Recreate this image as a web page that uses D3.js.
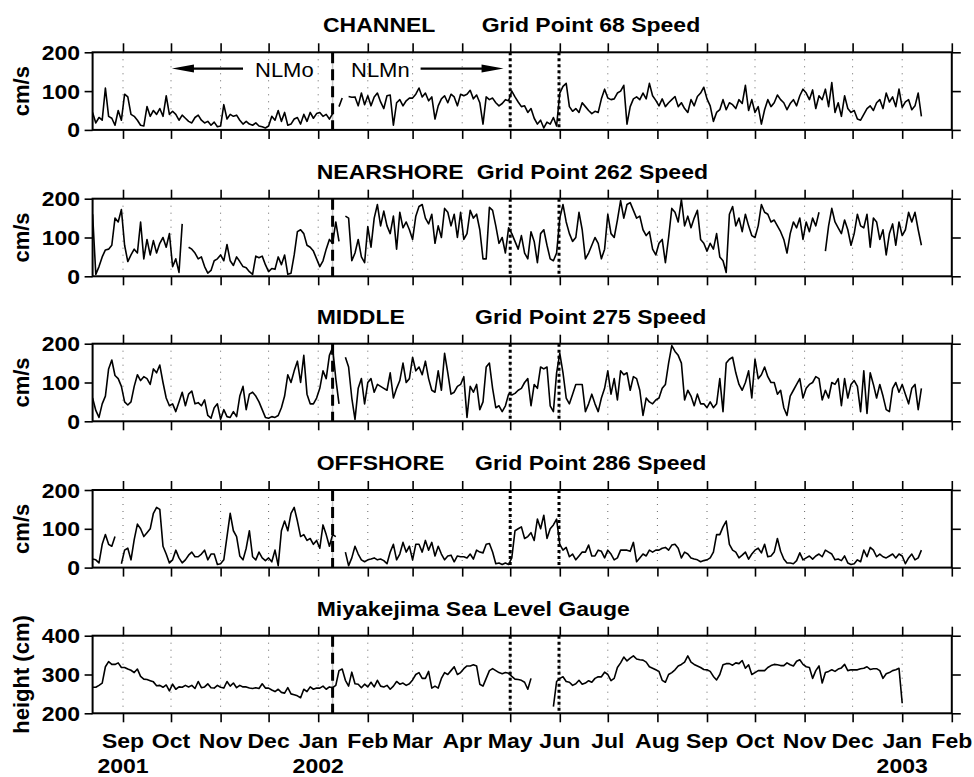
<!DOCTYPE html>
<html>
<head>
<meta charset="utf-8">
<script src="https://cdn.jsdelivr.net/npm/d3@7"></script>
<style>
  body { margin: 0; background: #fff; }
  svg text { font-family: "Liberation Sans", Arial, Helvetica, sans-serif; fill: #000; }
</style>
</head>
<body>
<script>
const width = 974;
const height = 777;

// one sample every 2 days, starting 13 Aug 2001 (null = no data)
const startDate = new Date(2001, 7, 13);
const stepDays = 2;

const channel = [
  45, 18, 32, 25, 108, 35, 30, 12, 50, 25,                       // Aug 01
  92, 85, 40, 35, 25, 12, 10, 60, 35, 50, 40, 55, 35, 88, 40,    // Sep
  48, 40, 25, 38, 30, 22, 18, 32, 38, 25, 18, 22, 12, 20, 8,     // Oct
  10, 65, 28, 40, 35, 38, 25, 15, 22, 15, 12, 18, 10, 8, 5,      // Nov
  10, 35, 25, 50, 22, 45, 12, 15, 28, 32, 15, 40, 22, 45, 30, 42,// Dec
  45, 35, 40, 28, 42, null, 60, 82, null, 86, 84, 85, 62, 95, 65,// Jan 02
  88, 62, 85, 95, 72, 55, 88, 90, 12, 70, 78, 62, 75, 82,        // Feb
  82, 92, 108, 85, 95, 75, 85, 28, 62, 80, 88, 70, 92, 85, 62, 92,// Mar
  88, 92, 102, 80, 90, 70, 15, 85, 78, 82, 70, 62, 68, 78, 75,   // Apr
  100, 85, 72, 60, 62, 45, 55, 30, 15, 25, 5, 20, 15, 32, 10,    // May
  95, 112, 120, 60, 48, 55, 45, 70, 60, 50, 42, 48, 45, 80, 105, // Jun
  82, 78, 80, 95, 100, 115, 15, 60, 80, 85, 78, 95, 80, 120, 88, 76, // Jul
  62, 80, 60, 70, 78, 86, 60, 70, 55, 45, 78, 62, 86, 95, 110,   // Aug
  80, 62, 22, 45, 52, 78, 52, 70, 65, 55, 78, 68, 115, 50, 78,   // Sep
  45, 60, 15, 52, 78, 60, 70, 90, 78, 70, 52, 68, 78, 62, 88, 105,// Oct
  95, 78, 103, 55, 88, 78, 105, 60, 122, 45, 70, 35, 88, 55, 45, // Nov
  50, 28, 25, 40, 55, 62, 50, 70, 78, 55, 95, 72, 85, 60, 105, 58,// Dec
  72, 78, 52, 62, 95, 35                                         // Jan 03
];

const nearshore = [
  160, 5, 25, 50, 68, 70, 80, 150, 140, 172,
  80, 38, 55, 70, 60, 140, 45, 95, 55, 92, 60, 85, 100, 75, 110,
  25, 45, 10, 135, null, 75, 70, 60, 45, 50, 25, 8, 15, 40, 45,
  55, 40, 82, 40, 28, 50, 38, 25, 22, 12, 5, 52, 48, 52, 30,
  12, 20, 18, 50, 30, 55, 5, 8, 55, 115, 120, 110, 80, 75, 65, 45,
  25, 40, 70, 95, 85, 140, 90, null, 155, 150, 40, 60, 95, 50, 35,
  128, 75, 150, 185, 130, 168, 130, 110, 155, 70, 165, 125, 140, 120,
  95, 155, 180, 185, 150, 135, 160, 85, 130, 100, 175, 165, 130, 160, 100, 165,
  95, 110, 170, 150, 160, 120, 45, 45, 178, 170, 130, 85, 100, 60, 125,
  110, 90, 70, 105, 60, 45, 115, 90, 35, 110, 120, 80, 45, 40, 60,
  150, 185, 140, 110, 90, 100, 165, 120, 45, 60, 80, 100, 85, 45, 70,
  160, 110, 100, 145, 195, 150, 185, 190, 170, 150, 155, 120, 105, 115, 70, 55,
  85, 95, 35, 100, 175, 165, 140, 198, 130, 155, 125, 150, 170, 95, 85,
  65, 85, 70, 110, 50, 40, 10, 160, 180, 130, 150, 115, 160, 130, 105,
  100, 130, 185, 165, 160, 140, 145, 130, 115, 95, 60, 110, 140, 125, 150, 95,
  140, 115, 150, 130, 165, null, 65, 130, 175, 140, 125, 110, 145, 120, 80,
  110, 160, 130, 125, 160, 75, 150, 140, 95, 120, 55, 110, 135, 80, 140, 105,
  120, 165, 140, 165, 120, 80
];

const middle = [
  60, 28, 10, 45, 65, 135, 158, 118, 110, 90,
  50, 42, 50, 90, 120, 105, 115, 110, 95, 135, 125, 145, 100, 60, 40,
  45, 25, 50, 75, 40, 70, 78, 45, 48, 40, 55, 15, 8, 35, 45,
  5, 30, 12, 10, 25, 12, 65, 90, 30, 70, 75, 65, 50, 30, 10,
  8, 12, 10, 15, 35, 65, 120, 100, 130, 155, 100, 170, 70, 45, 45, 60,
  85, 130, 110, 170, 190, 110, 45, null, 165, 140, 60, 5, 85, 110, 45,
  100, 110, 75, 95, 90, 85, 80, 125, 60, 85, 105, 150, 100, 110,
  165, 130, 140, 120, 155, 110, 80, 75, 130, 80, 175, 125, 70, 75, 90, 95,
  115, 10, 90, 75, 95, 30, 50, 140, 150, 85, 35, 40, 25, 40, 70,
  68, 72, 80, 85, 100, 110, 40, 95, 85, 140, 135, 140, 40, 25, 125,
  175, 125, 60, 45, 70, 95, 95, 95, 25, 45, 70, 45, 25, 60, 85,
  130, 70, 110, 55, 130, 120, 125, 80, 115, 110, 80, 15, 60, 50, 45, 55,
  60, 85, 95, 150, 195, 180, 170, 150, 55, 80, 65, 40, 70, 45, 45,
  35, 50, 35, 45, 110, 25, 150, 160, 165, 125, 95, 80, 100, 130, 60,
  160, 110, 120, 140, 115, 100, 100, 70, 80, 35, 15, 65, 80, 95, 110, 60,
  85, 95, 100, 115, 110, 55, 80, 60, 100, 95, 110, 40, 110, 60, 95,
  105, 90, 25, 130, 20, 125, 95, 60, 95, 65, 30, 25, 85, 100, 75, 95,
  70, 45, 85, 95, 30, 85
];

const offshore = [
  22, 20, 12, 60, 85, 60, 55, 80, null, 10,
  45, 50, 20, 72, 112, 100, 80, 90, 100, 140, 155, 150, 55, 35, 12,
  20, 45, 25, 12, 20, 32, 40, 28, 28, 35, 45, 20, 35, 35, 8,
  10, 20, 80, 140, 95, 80, 30, 20, 50, 95, 28, 20, 40, 25, 18,
  25, 15, 45, 5, 95, 120, 95, 140, 155, 120, 80, 85, 70, 75, 60, 70,
  50, 110, 85, 55, 85, 80, null, null, 40, 5, 25, 55, 35, 20, 15,
  20, 22, 25, 20, 22, 18, 10, 40, 60, 20, 35, 65, 40, 55,
  20, 60, 60, 40, 70, 45, 65, 30, 55, 35, 20, 30, 32, 15, 30, 28,
  28, 25, 35, 22, 45, 40, 38, 60, 62, 40, 10, 12, 8, 12, 8,
  25, 95, 100, 105, 75, 80, 90, 70, 125, 100, 135, 75, 100, 110, 125,
  60, 45, 52, 28, 35, 20, 30, 40, 40, 58, 30, 30, 45, 42, 25,
  45, 35, 20, 25, 45, 45, 45, 42, 65, 15, 25, 35, 30, 45, 40, 45,
  45, 50, 52, 45, 58, 60, 50, 25, 40, 35, 25, 22, 20, 15, 18,
  20, 25, 40, 85, 85, 105, 120, 60, 45, 40, 25, 32, 40, 22, 35,
  45, 50, 38, 60, 28, 30, 40, 75, 42, 22, 12, 12, 10, 18, 38, 20,
  25, 30, 22, 30, 35, 28, 45, 40, 35, 20, 22, 18, 30, 12, 8,
  10, 20, 15, 45, 28, 52, 45, 28, 35, 28, 25, 30, 35, 25, 35, 30,
  10, 25, 35, 20, 25, 45
];

const seaLevel = [
  267, 267, 272, 278, 320, 333, 326, 326, 330, 318,
  318, 314, 311, 305, 314, 295, 288, 287, 284, 281, 271, 272, 267, 273, 258,
  275, 262, 268, 267, 272, 268, 272, 264, 282, 266, 268, 276, 266, 265, 272,
  267, 265, 282, 270, 278, 266, 272, 268, 268, 265, 264, 266, 264, 276, 265,
  265, 260, 256, 262, 254, 252, 266, 250, 248, 245, 240, 262, 256, 268, 262, 265,
  265, 270, 262, 268, 266, 272, 310, 314, 285, 270, 306, 276, 275, 266, 275,
  268, 280, 268, 285, 270, 268, 272, 262, 270, 282, 275, 278, 272, 276,
  286, 300, 305, 290, 290, 308, 265, 270, 265, 290, 305, 300, 310, 320, 300, 305,
  315, 322, 322, 325, 322, 275, 270, 290, 310, 315, 310, 305, 302, 305, 303,
  295, 288, 287, 285, 280, 262, 290, null, null, null, null, null, null, 217, 282,
  290, 294, 282, 280, 272, 276, 285, 275, 278, 284, 280, 290, 294, 294, 306,
  300, 284, 290, 318, 330, 345, 335, 342, 348, 340, 338, 337, 332, 320, 316, 312,
  308, 285, 280, 300, 305, 312, 322, 326, 332, 348, 332, 326, 322, 318, 313,
  312, 308, 295, 286, 300, 325, 328, 328, 324, 330, 328, 336, 316, 325, 300,
  305, 310, 310, 310, 318, 323, 326, 325, 323, 323, 330, 325, 322, 334, 338, 326,
  320, 318, 290, 310, 322, 278, 305, 308, 312, 308, 314, 317, 326, 310, 312,
  312, 312, 315, 316, 320, 313, 315, 315, 310, 290, 302, 305, 310, 312, 316, 226,
  null, null, null, null, null, null
];

const titleLeft = ['CHANNEL', 'NEARSHORE', 'MIDDLE', 'OFFSHORE', 'Miyakejima Sea Level Gauge'];
const titleRight = ['Grid Point 68 Speed', 'Grid Point 262 Speed', 'Grid Point 275 Speed', 'Grid Point 286 Speed', ''];
const yTitles = ['cm/s', 'cm/s', 'cm/s', 'cm/s', 'height (cm)'];
const yDomains = [[0, 200], [0, 200], [0, 200], [0, 200], [200, 400]];
const yTickValues = [[0, 100, 200], [0, 100, 200], [0, 100, 200], [0, 100, 200], [200, 300, 400]];

const regimeChange = new Date(2002, 0, 10);
const dottedDates = [new Date(2002, 4, 1), new Date(2002, 4, 31, 12)];
const yearTicks = [new Date(2001, 8, 1), new Date(2002, 0, 1), new Date(2003, 0, 1)];
const yearLabels = ['2001', '2002', '2003'];
const arrowLabels = ['NLMo', 'NLMn'];
const arrowFrom = [new Date(2001, 10, 15), new Date(2002, 2, 6)];
const arrowTo = [new Date(2001, 9, 1, 14), new Date(2002, 3, 26, 20)];
const arrowLabelAt = [new Date(2001, 10, 22, 12), new Date(2002, 0, 21, 12)];

const series = [channel, nearshore, middle, offshore, seaLevel];

// ---- layout ----
const left = 92.6, right = 951.8;
const panelTop = [52.3, 198.7, 343.7, 490, 635.7];
const panelH = 77.6;
const titleX = [[323, 481.7], [316.7, 476.7], [316.7, 475], [316.7, 475], [316.7, 0]];
const sx = 1.15;

const x = d3.scaleTime()
  .domain([startDate, new Date(2003, 1, 1)])
  .range([left, right]);

const monthTicks = x.ticks(d3.timeMonth.every(1));

const svg = d3.select('body').append('svg')
  .attr('width', width)
  .attr('height', height);

svg.append('defs').append('clipPath').attr('id', 'plotclip')
  .append('rect').attr('x', left).attr('y', 0)
  .attr('width', right - left).attr('height', panelH);

function wideText(sel, tx, ty, txt, anchor, size, weight, scaleX) {
  return sel.append('text')
    .attr('transform', `translate(${tx},${ty}) scale(${scaleX || sx},1)`)
    .attr('text-anchor', anchor)
    .style('font-size', size + 'px')
    .style('font-weight', weight)
    .text(txt);
}

series.forEach((vals, p) => {
  if (vals.length !== 260) console.warn('series', p, 'has', vals.length, 'values');

  const g = svg.append('g').attr('transform', `translate(0,${panelTop[p]})`);
  const y = d3.scaleLinear().domain(yDomains[p]).range([panelH, 0]);

  // month grid
  g.selectAll('.grid').data(monthTicks.filter(d => x(d) > left + 1 && x(d) < right - 1))
    .enter().append('line')
    .attr('x1', d => x(d)).attr('x2', d => x(d))
    .attr('y1', 0).attr('y2', panelH)
    .attr('stroke', '#666')
    .attr('stroke-width', 1)
    .attr('stroke-dasharray', '1,6');

  // regime markers
  g.append('line')
    .attr('x1', x(regimeChange)).attr('x2', x(regimeChange))
    .attr('y1', 0).attr('y2', panelH)
    .attr('stroke', '#c8c8c8').attr('stroke-width', 1.5);
  g.append('line')
    .attr('x1', x(regimeChange)).attr('x2', x(regimeChange))
    .attr('y1', 0).attr('y2', panelH)
    .attr('stroke', '#000').attr('stroke-width', 3)
    .attr('stroke-dasharray', '11,6');
  dottedDates.forEach(d => {
    g.append('line')
      .attr('x1', x(d)).attr('x2', x(d))
      .attr('y1', 0).attr('y2', panelH)
      .attr('stroke', '#000').attr('stroke-width', 3)
      .attr('stroke-dasharray', '3,3');
  });

  // data
  const pts = vals.map((v, i) => ({ date: d3.timeDay.offset(startDate, i * stepDays), v: v }));
  const line = d3.line()
    .defined(d => d.v != null)
    .x(d => x(d.date))
    .y(d => y(d.v));
  g.append('path')
    .datum(pts)
    .attr('clip-path', 'url(#plotclip)')
    .attr('fill', 'none')
    .attr('stroke', '#000')
    .attr('stroke-width', 1.6)
    .attr('stroke-linejoin', 'round')
    .attr('d', line);

  // axes: ticks outward on all four sides
  const tickStyle = a => {
    a.select('.domain').remove();
    a.selectAll('.tick line').attr('stroke-width', 1.6);
  };
  g.append('g').call(d3.axisTop(x).tickValues(monthTicks).tickSize(9).tickFormat('')).call(tickStyle);
  g.append('g').attr('transform', `translate(0,${panelH})`)
    .call(d3.axisBottom(x).tickValues(monthTicks).tickSize(9).tickFormat('')).call(tickStyle);
  g.append('g').attr('transform', `translate(${left},0)`)
    .call(d3.axisLeft(y).tickValues(yTickValues[p]).tickSize(8).tickFormat('')).call(tickStyle);
  g.append('g').attr('transform', `translate(${right},0)`)
    .call(d3.axisRight(y).tickValues(yTickValues[p]).tickSize(9).tickFormat('')).call(tickStyle);

  g.append('rect')
    .attr('x', left).attr('y', 0)
    .attr('width', right - left).attr('height', panelH)
    .attr('fill', 'none').attr('stroke', '#000').attr('stroke-width', 2);

  // tick labels
  yTickValues[p].forEach(t => {
    wideText(g, 80, y(t) + 7.5, t, 'end', 20, 'bold');
  });

  // y title
  g.append('text')
    .attr('transform', `translate(29,${panelH / 2}) rotate(-90)`)
    .attr('text-anchor', 'middle')
    .style('font-size', '22px')
    .style('font-weight', 'bold')
    .text(yTitles[p]);

  // panel title
  wideText(g, titleX[p][0], -20, titleLeft[p], 'start', 20, 'bold');
  if (titleRight[p]) wideText(g, titleX[p][1], -20, titleRight[p], 'start', 20, 'bold');

  // annotation arrows on the first panel
  if (p === 0) {
    const ay = 16.3;
    arrowLabels.forEach((lab, k) => {
      const x0 = x(arrowFrom[k]), x1 = x(arrowTo[k]);
      const dir = Math.sign(x1 - x0);
      const headLen = 22, headHalf = 4;
      g.append('line')
        .attr('x1', x0).attr('x2', x1 - dir * headLen * 0.8)
        .attr('y1', ay).attr('y2', ay)
        .attr('stroke', '#000').attr('stroke-width', 2.4);
      g.append('path')
        .attr('d', `M${x1},${ay} L${x1 - dir * headLen},${ay - headHalf} L${x1 - dir * headLen},${ay + headHalf} Z`)
        .attr('fill', '#000');
      wideText(g, x(arrowLabelAt[k]), ay + 8, lab, 'start', 20, 'normal', 1.1);
    });
  }

  // month and year labels below the last panel
  if (p === series.length - 1) {
    monthTicks.forEach(d => {
      wideText(g, x(d), 748 - panelTop[p], d3.timeFormat('%b')(d), 'middle', 20, 'bold');
    });
    yearTicks.forEach((d, k) => {
      wideText(g, x(d), 773 - panelTop[p], yearLabels[k], 'middle', 20, 'bold');
    });
  }
});
</script>
</body>
</html>
